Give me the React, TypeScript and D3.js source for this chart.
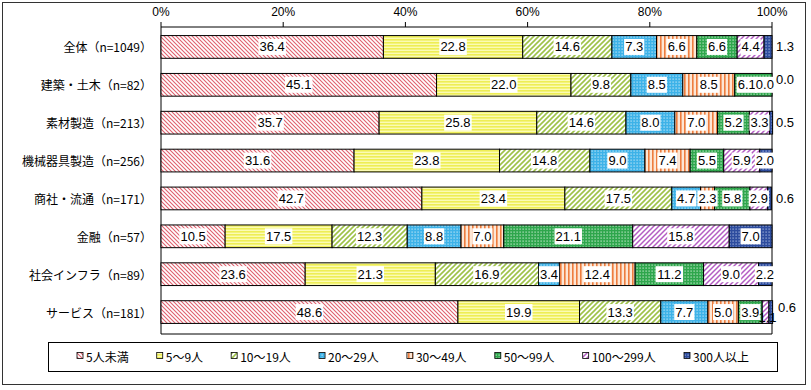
import React from "react";
import * as d3 from "d3";

const categories = [
  "全体（n=1049）",
  "建築・土木（n=82）",
  "素材製造（n=213）",
  "機械器具製造（n=256）",
  "商社・流通（n=171）",
  "金融（n=57）",
  "社会インフラ（n=89）",
  "サービス（n=181）",
];

const seriesNames = ["5人未満", "5～9人", "10～19人", "20～29人", "30～49人", "50～99人", "100～299人", "300人以上"];

// one array per category, in series order
const zentai = [36.4, 22.8, 14.6, 7.3, 6.6, 6.6, 4.4, 1.3];
const kenchiku = [45.1, 22.0, 9.8, 8.5, 8.5, 6.1, 0.0, 0.0];
const sozai = [35.7, 25.8, 14.6, 8.0, 7.0, 5.2, 3.3, 0.5];
const kikai = [31.6, 23.8, 14.8, 9.0, 7.4, 5.5, 5.9, 2.0];
const shosha = [42.7, 23.4, 17.5, 4.7, 2.3, 5.8, 2.9, 0.6];
const kinyu = [10.5, 17.5, 12.3, 8.8, 7.0, 21.1, 15.8, 7.0];
const infra = [23.6, 21.3, 16.9, 3.4, 12.4, 11.2, 9.0, 2.2];
const service = [48.6, 19.9, 13.3, 7.7, 5.0, 3.9, 1.1, 0.6];

const rows = [zentai, kenchiku, sozai, kikai, shosha, kinyu, infra, service];
const ticks = [0, 20, 40, 60, 80, 100];

const W = 811;
const H = 390;
const numFont = "'Liberation Sans', Arial, sans-serif";
const jpFont = "'Noto Sans CJK JP', sans-serif";

// rough text widths so label boxes / legend spacing work without measuring
const textW = (s: string, size: number) =>
  Array.from(s).reduce((a, c) => {
    if (c.charCodeAt(0) > 255) return a + size;
    if (c === ".") return a + size * 0.28;
    return a + size * 0.56;
  }, 0);

function Patterns() {
  return (
    <defs>
      <pattern id="p0" width="4" height="4" patternUnits="userSpaceOnUse">
        <rect width="4" height="4" fill="#fff" />
        <path d="M-1,3 l2,2 M0,0 l4,4 M3,-1 l2,2" stroke="#e0606e" strokeWidth="1.1" />
      </pattern>
      <pattern id="p1" width="4" height="3" patternUnits="userSpaceOnUse">
        <rect width="4" height="3" fill="#fbfbb4" />
        <rect width="4" height="1.6" fill="#eeee55" />
      </pattern>
      <pattern id="p2" width="5" height="5" patternUnits="userSpaceOnUse">
        <rect width="5" height="5" fill="#fff" />
        <path d="M-1,1 l2,-2 M0,5 l5,-5 M4,6 l2,-2" stroke="#9ec248" strokeWidth="1.6" />
      </pattern>
      <pattern id="p3" width="3" height="3" patternUnits="userSpaceOnUse">
        <rect width="3" height="3" fill="#3db2e8" />
        <rect x="0.5" y="0.5" width="1.2" height="1.2" fill="#c4e8f8" />
      </pattern>
      <pattern id="p4" width="4" height="4" patternUnits="userSpaceOnUse">
        <rect width="4" height="4" fill="#fde6d4" />
        <rect width="1.6" height="4" fill="#ee7d3e" />
      </pattern>
      <pattern id="p5" width="3" height="3" patternUnits="userSpaceOnUse">
        <rect width="3" height="3" fill="#2ea64c" />
        <rect x="0.5" y="0.5" width="1.2" height="1.2" fill="#c8ecd0" />
      </pattern>
      <pattern id="p6" width="5" height="5" patternUnits="userSpaceOnUse">
        <rect width="5" height="5" fill="#fff" />
        <path d="M-1,1 l2,-2 M0,5 l5,-5 M4,6 l2,-2" stroke="#b45cc4" strokeWidth="1.5" />
      </pattern>
      <pattern id="p7" width="3" height="3" patternUnits="userSpaceOnUse">
        <rect width="3" height="3" fill="#2d4c9e" />
        <rect x="0.5" y="0.5" width="1.2" height="1.2" fill="#a8b8e0" />
      </pattern>
    </defs>
  );
}

type Lbl = { text: string; x: number; y: number; w: number; bg: boolean };

export default function App() {
  const x = d3.scaleLinear().domain([0, 100]).range([161, 772]);
  const y = d3.scaleBand().domain(categories).range([28, 331]).paddingInner(0.4).paddingOuter(0.2);
  const bw = y.bandwidth();
  const labelSize = 13;

  const stack = rows.map((vals) => {
    let acc = 0;
    return vals.map((v) => {
      const s = acc;
      acc += v;
      return [s, acc];
    });
  });

  // place labels: centred on segment, tiny last one goes outside,
  // inline ones are kept inside the plot and pushed left when they collide
  const labels: Lbl[][] = rows.map((vals, ri) => {
    const cy = y(categories[ri])! + bw / 2;
    const last = vals.length - 1;
    const out: Lbl[] = [];
    const inline: Lbl[] = [];
    vals.forEach((v, si) => {
      const [s, e] = stack[ri][si];
      const text = v.toFixed(1);
      const w = textW(text, labelSize);
      if (si === last && v < 1.5) {
        const prevSmall = vals[si - 1] < 1.5;
        out.push({ text, x: x(100) + 13 + (prevSmall && vals[si - 1] > 0 ? 2 : 0), y: cy - (prevSmall ? 5 : 0), w, bg: false });
      } else if (v < 1.5 && v > 0) {
        out.push({ text, x: (x(s) + x(e)) / 2 + 2, y: cy + 5, w, bg: false });
      } else {
        inline.push({ text, x: (x(s) + x(e)) / 2, y: cy, w, bg: true });
      }
    });
    let limit = x(100) + 2;
    for (let i = inline.length - 1; i >= 0; i--) {
      const l = inline[i];
      if (l.x + l.w / 2 > limit) l.x = limit - l.w / 2;
      limit = l.x - l.w / 2;
    }
    return [...inline, ...out];
  });

  // legend layout
  const legendX0 = 77;
  const legendGap = 27;
  const legendPos: number[] = [];
  seriesNames.reduce((pos, name) => {
    legendPos.push(pos);
    return pos + 10 + textW(name, 12) + legendGap;
  }, legendX0);

  return (
    <svg width={W} height={H} style={{ position: "absolute", left: 0, top: 0, background: "#fff" }}>
      <Patterns />
      <rect x={2.5} y={2.5} width={803} height={382} fill="#fff" stroke="#333" strokeWidth={1} />

      {/* plot frame */}
      <line x1={x(0)} x2={x(0)} y1={27} y2={334} stroke="#000" />
      <line x1={x(100)} x2={x(100)} y1={27} y2={334} stroke="#000" />
      <line x1={x(0)} x2={x(100)} y1={334} y2={334} stroke="#000" />
      <line x1={x(0)} x2={x(100)} y1={27} y2={27} stroke="#000" />
      {ticks.map((t) => (
        <g key={t}>
          <line x1={x(t)} x2={x(t)} y1={22} y2={27} stroke="#000" />
          <text x={x(t)} y={16} textAnchor="middle" fontFamily={numFont} fontSize={12} fill="#000">
            {t}%
          </text>
        </g>
      ))}

      {categories.map((c, ri) => {
        const top = y(c)!;
        const cy = top + bw / 2;
        return (
          <g key={c}>
            <text x={152} y={cy} textAnchor="end" dominantBaseline="central" fontFamily={jpFont} fontSize={12} fill="#000">
              {c}
            </text>
            {stack[ri].map(([s, e], si) => (
              <rect
                key={si}
                x={x(s)}
                y={top}
                width={x(e) - x(s)}
                height={bw}
                fill={`url(#p${si})`}
                stroke="#000"
                strokeWidth={1}
              />
            ))}
          </g>
        );
      })}

      {/* value labels */}
      {labels.map((row, ri) => (
        <g key={ri}>
          {row.map((l, i) => (
            <g key={i}>
              {l.bg && <rect x={l.x - l.w / 2 - 1} y={l.y - 8} width={l.w + 2} height={16} fill="#fff" />}
              <text
                x={l.x}
                y={l.y}
                textAnchor="middle"
                dominantBaseline="central"
                fontFamily={numFont}
                fontSize={labelSize}
                fill="#000"
              >
                {l.text}
              </text>
            </g>
          ))}
        </g>
      ))}

      {/* legend */}
      <rect x={48.5} y={342.5} width={729} height={29} fill="#fff" stroke="#000" strokeWidth={1} />
      {seriesNames.map((n, i) => (
        <g key={n}>
          <rect x={legendPos[i]} y={352.5} width={6} height={6} fill={`url(#p${i})`} stroke="#000" strokeWidth={0.8} />
          <text x={legendPos[i] + 9} y={356} dominantBaseline="central" fontFamily={jpFont} fontSize={12} fill="#000">
            {n}
          </text>
        </g>
      ))}
    </svg>
  );
}
